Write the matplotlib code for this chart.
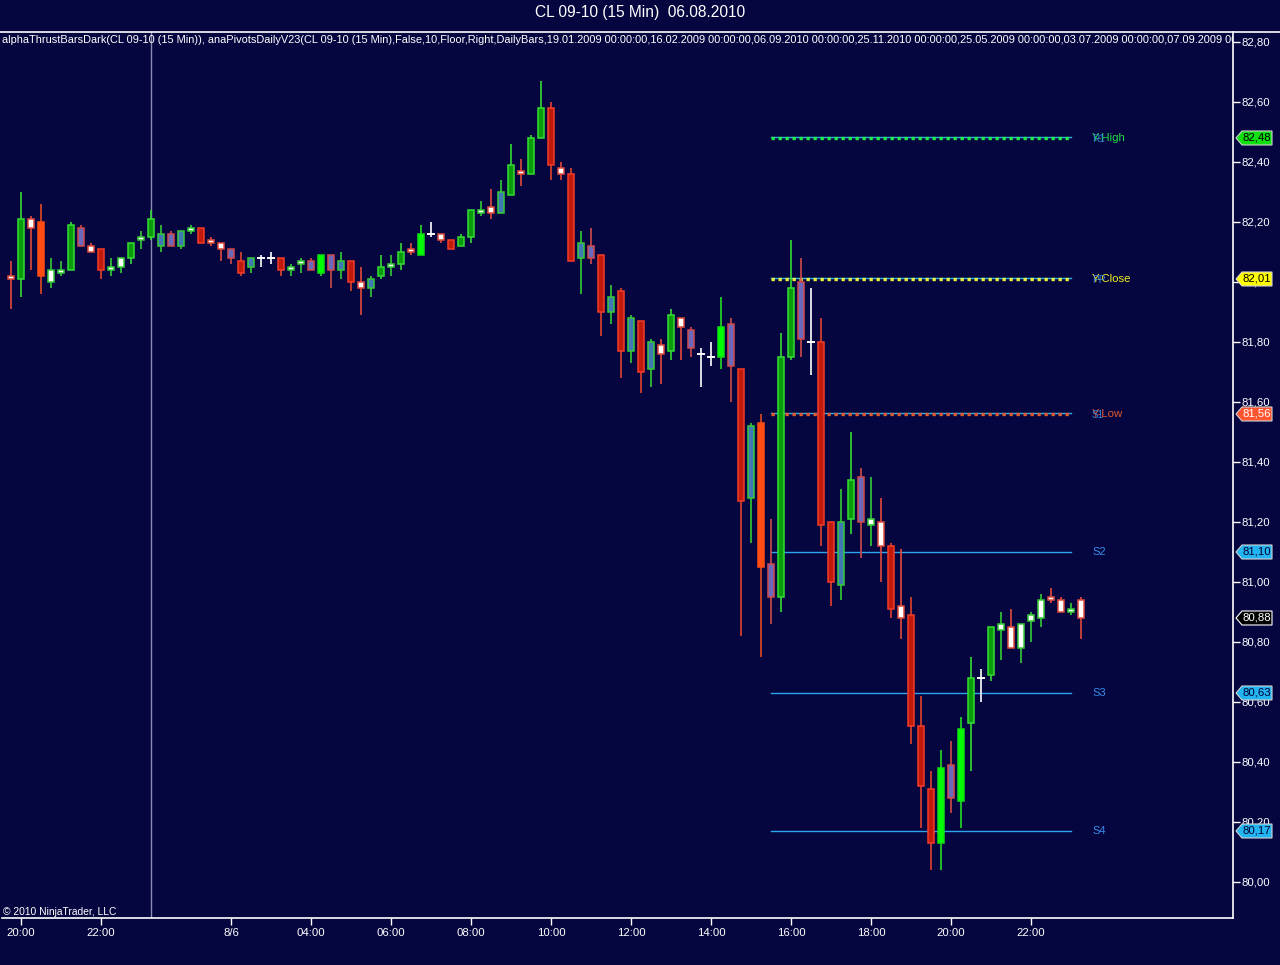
import matplotlib
matplotlib.use("Agg")
import matplotlib.pyplot as plt
from matplotlib.patches import Rectangle, Polygon
from matplotlib.lines import Line2D
import matplotlib.transforms as mtransforms

# ---------------- data ----------------
opens = [82.02, 82.01, 82.21, 82.20, 82.00, 82.03, 82.04, 82.18, 82.12, 82.11,
         82.04, 82.05, 82.08, 82.14, 82.15, 82.16, 82.16, 82.12, 82.17, 82.18,
         82.14, 82.13, 82.11, 82.07, 82.05, 82.08, 82.08, 82.08, 82.04, 82.06,
         82.07, 82.03, 82.09, 82.04, 82.07, 82.00, 81.98, 82.02, 82.05, 82.06,
         82.11, 82.09, 82.16, 82.16, 82.14, 82.12, 82.15, 82.23, 82.25, 82.23,
         82.29, 82.37, 82.36, 82.48, 82.58, 82.38, 82.36, 82.08, 82.12, 82.09,
         81.90, 81.97, 81.77, 81.87, 81.71, 81.79, 81.77, 81.88, 81.84, 81.76,
         81.75, 81.75, 81.86, 81.71, 81.28, 81.53, 81.06, 80.95, 81.75, 82.00,
         81.80, 81.80, 81.20, 80.99, 81.21, 81.35, 81.19, 81.20, 81.12, 80.92,
         80.89, 80.52, 80.31, 80.13, 80.39, 80.27, 80.53, 80.68, 80.69, 80.84,
         80.85, 80.78, 80.87, 80.88, 80.95, 80.94, 80.90, 80.94]
highs = [82.07, 82.30, 82.22, 82.26, 82.08, 82.07, 82.20, 82.19, 82.13, 82.11,
         82.08, 82.08, 82.13, 82.17, 82.24, 82.19, 82.17, 82.17, 82.19, 82.18,
         82.15, 82.13, 82.11, 82.10, 82.08, 82.09, 82.10, 82.08, 82.06, 82.08,
         82.08, 82.09, 82.09, 82.10, 82.07, 82.05, 82.02, 82.09, 82.09, 82.13,
         82.13, 82.19, 82.20, 82.16, 82.14, 82.16, 82.24, 82.27, 82.31, 82.34,
         82.46, 82.41, 82.49, 82.67, 82.60, 82.40, 82.38, 82.17, 82.18, 82.09,
         81.99, 81.98, 81.89, 81.87, 81.81, 81.81, 81.91, 81.88, 81.85, 81.78,
         81.80, 81.95, 81.88, 81.71, 81.53, 81.56, 81.21, 81.83, 82.14, 82.08,
         81.98, 81.88, 81.20, 81.31, 81.50, 81.38, 81.35, 81.28, 81.13, 81.11,
         80.95, 80.62, 80.37, 80.44, 80.47, 80.55, 80.75, 80.71, 80.85, 80.90,
         80.91, 80.86, 80.90, 80.96, 80.98, 80.95, 80.93, 80.95]
lows = [81.91, 81.95, 82.04, 81.96, 81.98, 82.02, 82.04, 82.12, 82.10, 82.01,
        82.02, 82.03, 82.06, 82.11, 82.14, 82.10, 82.12, 82.11, 82.16, 82.13,
        82.12, 82.07, 82.06, 82.02, 82.03, 82.05, 82.06, 82.02, 82.02, 82.03,
        82.04, 82.02, 81.98, 82.01, 81.97, 81.89, 81.95, 82.01, 82.02, 82.04,
        82.09, 82.09, 82.15, 82.13, 82.11, 82.12, 82.13, 82.22, 82.21, 82.23,
        82.29, 82.32, 82.36, 82.48, 82.34, 82.34, 82.07, 81.96, 82.06, 81.82,
        81.86, 81.68, 81.73, 81.63, 81.65, 81.66, 81.74, 81.74, 81.75, 81.65,
        81.72, 81.71, 81.60, 80.82, 81.13, 80.75, 80.86, 80.90, 81.74, 81.75,
        81.69, 81.12, 80.92, 80.94, 81.16, 81.08, 81.12, 81.00, 80.88, 80.81,
        80.46, 80.18, 80.04, 80.04, 80.23, 80.18, 80.37, 80.60, 80.67, 80.74,
        80.78, 80.73, 80.80, 80.85, 80.93, 80.90, 80.89, 80.81]
closes = [82.01, 82.21, 82.18, 82.02, 82.04, 82.04, 82.19, 82.12, 82.10, 82.04,
          82.05, 82.08, 82.13, 82.15, 82.21, 82.12, 82.12, 82.17, 82.18, 82.13,
          82.13, 82.11, 82.08, 82.03, 82.08, 82.08, 82.08, 82.04, 82.05, 82.07,
          82.04, 82.09, 82.04, 82.07, 82.00, 81.98, 82.01, 82.05, 82.06, 82.10,
          82.10, 82.16, 82.16, 82.14, 82.11, 82.15, 82.24, 82.24, 82.23, 82.30,
          82.39, 82.36, 82.48, 82.58, 82.39, 82.36, 82.07, 82.13, 82.08, 81.90,
          81.95, 81.77, 81.88, 81.70, 81.80, 81.76, 81.89, 81.85, 81.78, 81.76,
          81.75, 81.85, 81.72, 81.27, 81.52, 81.05, 80.95, 81.75, 81.98, 81.81,
          81.80, 81.19, 81.00, 81.20, 81.34, 81.20, 81.21, 81.12, 80.91, 80.88,
          80.52, 80.32, 80.13, 80.38, 80.28, 80.51, 80.68, 80.68, 80.85, 80.86,
          80.78, 80.86, 80.89, 80.94, 80.94, 80.90, 80.91, 80.88]
bar_styles = ['wr', 'g', 'wr', 'o', 'wg', 'wg', 'g', 'sr', 'wr', 'r',
              'wg', 'wg', 'g', 'wg', 'g', 'sg', 'sr', 'sg', 'wg', 'r',
              'wr', 'wr', 'sr', 'r', 'sg', 'd', 'd', 'r', 'wg', 'wg',
              'sr', 'G', 'sr', 'sg', 'r', 'wr', 'sg', 'g', 'wg', 'g',
              'wr', 'G', 'd', 'wr', 'r', 'g', 'g', 'wg', 'wr', 'sg',
              'g', 'wr', 'g', 'g', 'r', 'wr', 'r', 'sg', 'sr', 'r',
              'sg', 'r', 'sg', 'r', 'sg', 'wr', 'g', 'wr', 'sr', 'd',
              'd', 'G', 'sr', 'r', 'sg', 'o', 'sr', 'g', 'g', 'sr',
              'd', 'r', 'r', 'sg', 'g', 'sr', 'wg', 'wr', 'r', 'wr',
              'r', 'r', 'r', 'G', 'sr', 'G', 'g', 'd', 'g', 'wg',
              'wr', 'wg', 'wg', 'wg', 'wr', 'wr', 'wg', 'wr']

time_tick_bars = [1, 9, 22, 30, 38, 46, 54, 62, 70, 78, 86, 94, 102]
time_tick_labels = ['20:00', '22:00', '8/6', '04:00', '06:00', '08:00', '10:00',
                    '12:00', '14:00', '16:00', '18:00', '20:00', '22:00']

price_ticks = [80.0, 80.2, 80.4, 80.6, 80.8, 81.0, 81.2, 81.4, 81.6, 81.8,
               82.0, 82.2, 82.4, 82.6, 82.8]

pivot_names = ['R1', 'PP', 'S1', 'S2', 'S3', 'S4']
pivot_extra = ['Y-High', 'Y-Close', 'Y-Low', '', '', '']
pivot_values = [82.48, 82.01, 81.56, 81.10, 80.63, 80.17]
pivot_start_bar = 76
pivot_end_bar = 106

last_price = 80.88
session_break_bar = 14

title_text = 'CL 09-10 (15 Min)  06.08.2010'
indicator_text = ('alphaThrustBarsDark(CL 09-10 (15 Min)), anaPivotsDailyV23(CL 09-10 (15 Min),'
                  'False,10,Floor,Right,DailyBars,19.01.2009 00:00:00,16.02.2009 00:00:00,'
                  '06.09.2010 00:00:00,25.11.2010 00:00:00,25.05.2009 00:00:00,'
                  '03.07.2009 00:00:00,07.09.2009 00:00:00')
copyright_text = '© 2010 NinjaTrader, LLC'

# ---------------- style ----------------
BG = '#05053f'
style_colors = {
    'g':  ('#0b9a0b', '#35dd35', '#35dd35'),
    'G':  ('#00ff00', '#10e010', '#25dd25'),
    'r':  ('#c01a0c', '#f23c2a', '#e0422c'),
    'o':  ('#ff4c12', '#ff4c12', '#e04a24'),
    'wr': ('#ffffff', '#e04a3a', '#e04a3a'),
    'wg': ('#ffffff', '#35cc35', '#35cc35'),
    'sg': ('#3f78b5', '#35cc35', '#35cc35'),
    'sr': ('#6a68bd', '#d04a4a', '#d04a4a'),
    'd':  ('#ffffff', '#ffffff', '#ffffff'),
}
pivot_line_colors = {'R1': '#22ee44', 'PP': '#e8f040', 'S1': '#e05a30'}
flag_colors = {
    82.48: ('#10e010', 'black'),
    82.01: ('#ffff00', 'black'),
    81.56: ('#ff5530', 'white'),
    81.10: ('#22b4f0', '#000030'),
    80.63: ('#22b4f0', '#000030'),
    80.17: ('#22b4f0', '#000030'),
}
label_colors = {'Y-High': '#20dd40', 'Y-Close': '#f0f020', 'Y-Low': '#e05a30'}
S_COLOR = '#3a8ee8'

plt.rcParams['font.family'] = ['Liberation Sans', 'DejaVu Sans']

W, H = 1280, 965
fig = plt.figure(figsize=(W / 100, H / 100), dpi=100, facecolor=BG)
ax_left, ax_right, ax_top, ax_bottom = 2, 1233, 32, 918
ax = fig.add_axes([ax_left / W, 1 - ax_bottom / H, (ax_right - ax_left) / W, (ax_bottom - ax_top) / H])
ax.set_facecolor(BG)

n = len(opens)
xs = list(range(n))
ax.set_xlim(-0.9, 122.2)
ax.set_ylim(79.88, 82.8333)

# session break line
ax.axvline(session_break_bar, color='#8c8cb4', lw=1.0, zorder=1)

# pivot lines
for name, val in zip(pivot_names, pivot_values):
    if name in pivot_line_colors:
        ax.plot([pivot_start_bar, pivot_end_bar], [val + 0.004, val + 0.004], color='#30b0e0', lw=1.0, zorder=2)
        ax.plot([pivot_start_bar, pivot_end_bar], [val, val], color=pivot_line_colors[name],
                lw=2.4, linestyle=(0, (1, 1.1)), zorder=2)
    else:
        ax.plot([pivot_start_bar, pivot_end_bar], [val, val], color='#2aa6f0', lw=1.0, zorder=2)

# candles
bw = 0.55
for i in xs:
    o, h, l, c, s = opens[i], highs[i], lows[i], closes[i], bar_styles[i]
    face, edge, wick = style_colors[s]
    ax.plot([i, i], [l, h], color=wick, lw=1.2, zorder=3, solid_capstyle='butt')
    if s == 'd':
        ax.plot([i - bw / 2, i + bw / 2], [o, o], color=wick, lw=1.4, zorder=4)
    else:
        lo, hi = min(o, c), max(o, c)
        ax.add_patch(Rectangle((i - bw / 2, lo), bw, max(hi - lo, 0.006), facecolor=face,
                               edgecolor=edge, lw=1.1, zorder=4))

# pivot labels (the reference draws the pivot name over the start of the extra label)
for name, extra, val in zip(pivot_names, pivot_extra, pivot_values):
    if extra:
        ax.text(108.1, val, extra, color=label_colors[extra], fontsize=8.2, va='center', ha='left', zorder=5)
        ax.text(108.1, val - 0.005, name, color=S_COLOR, fontsize=7.2, va='center', ha='left', zorder=6, alpha=0.9)
    else:
        ax.text(108.1, val, name, color=S_COLOR, fontsize=8, va='center', ha='left', zorder=5)

# axes styling
for sp in ['left', 'top']:
    ax.spines[sp].set_visible(False)
for sp in ['right', 'bottom']:
    ax.spines[sp].set_color('white')
    ax.spines[sp].set_linewidth(1.2)

ax.yaxis.tick_right()
ax.set_yticks(price_ticks)
ax.set_yticklabels([f'{p:.2f}'.replace('.', ',') for p in price_ticks])
ax.tick_params(axis='y', colors='white', labelcolor='white', length=5, width=1, pad=1, labelsize=8.2)
ax.set_xticks(time_tick_bars)
ax.set_xticklabels(time_tick_labels)
ax.tick_params(axis='x', colors='white', labelcolor='white', length=5, width=1, pad=2, labelsize=8.2)

# price flags on the right axis
trans = mtransforms.blended_transform_factory(ax.transAxes, ax.transData)
axw = ax_right - ax_left
ppx = 1.0 / 300.0  # price per pixel
def flag(val, fc, tc, ec=None):
    x0 = 1 + 3 / axw
    x1 = 1 + 9 / axw
    x2 = 1 + 39 / axw
    hh = 7 * ppx
    poly = Polygon([(x0, val), (x1, val + hh), (x2, val + hh), (x2, val - hh), (x1, val - hh)],
                   closed=True, transform=trans, facecolor=fc, edgecolor=ec if ec else '#d0d0d0',
                   lw=0.8, clip_on=False, zorder=10)
    ax.add_patch(poly)
    ax.text(1 + 24 / axw, val, f'{val:.2f}'.replace('.', ','), transform=trans, color=tc,
            fontsize=8.2, ha='center', va='center', clip_on=False, zorder=11)

for val in pivot_values:
    fc, tc = flag_colors[val]
    flag(val, fc, tc)
flag(last_price, 'black', 'white', ec='white')

# top indicator text
ax.text(0.0, 1 - 8 / (ax_bottom - ax_top), indicator_text, transform=ax.transAxes, color='white',
        fontsize=7.9, ha='left', va='center', clip_on=True, zorder=8)
# copyright
ax.text(0.001, 6 / (ax_bottom - ax_top), copyright_text, transform=ax.transAxes, color='white',
        fontsize=7.4, ha='left', va='center', zorder=8)

# top line across the figure
fig.add_artist(Line2D([0, 1], [1 - ax_top / H, 1 - ax_top / H], transform=fig.transFigure, color='white', lw=1.2))

# title
fig.text(0.5, 1 - 12 / H, title_text, color='white', fontsize=11.2, ha='center', va='center')

fig.savefig('out.png', dpi=100, facecolor=BG)
